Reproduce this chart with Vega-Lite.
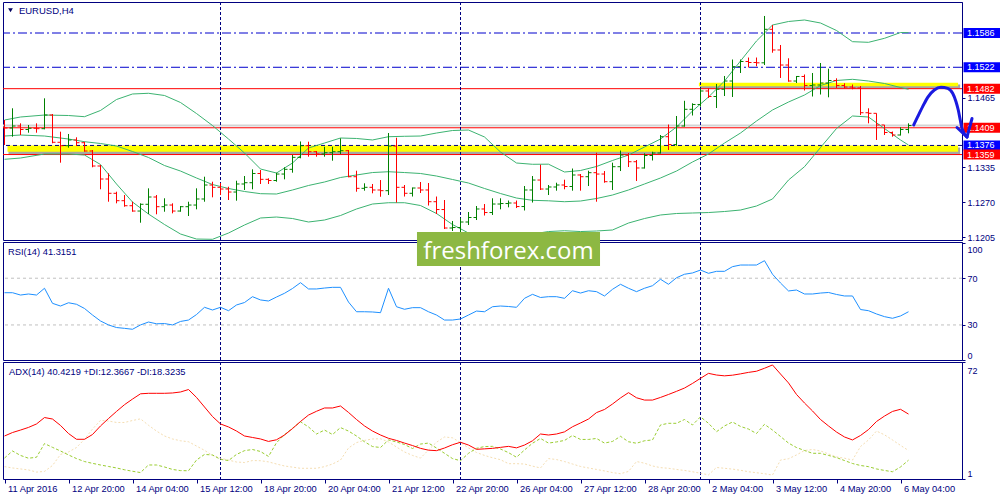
{
"$schema": "https://vega.github.io/schema/vega-lite/v6.json",
"padding": {"left": 1, "top": 1, "right": 0, "bottom": 0},
"background": "white",
"spacing": 2,
"bounds": "flush",
"config": {"view": {"stroke": "#000080", "strokeWidth": 1}, "font": "Liberation Sans",
  "axis": {"labelFont": "Liberation Sans", "labelFontSize": 9, "labelColor": "#000080", "tickColor": "#000080", "domainColor": "#000080", "grid": false, "labelFlush": false, "labelOverlap": false}},
"datasets": {
"bars": [
{"i":3,"o":1.14095,"h":1.14235,"l":1.13768,"c":1.14086},
{"i":4,"o":1.14086,"h":1.14454,"l":1.13923,"c":1.14123},
{"i":5,"o":1.14123,"h":1.14173,"l":1.13955,"c":1.14058},
{"i":6,"o":1.14058,"h":1.14142,"l":1.13998,"c":1.14080},
{"i":7,"o":1.14080,"h":1.14173,"l":1.13998,"c":1.14073},
{"i":8,"o":1.14073,"h":1.14640,"l":1.14061,"c":1.14328},
{"i":9,"o":1.14328,"h":1.14347,"l":1.13800,"c":1.13819},
{"i":10,"o":1.13819,"h":1.14017,"l":1.13438,"c":1.13755},
{"i":11,"o":1.13755,"h":1.13974,"l":1.13718,"c":1.13862},
{"i":12,"o":1.13862,"h":1.13912,"l":1.13749,"c":1.13811},
{"i":13,"o":1.13811,"h":1.13830,"l":1.13643,"c":1.13656},
{"i":14,"o":1.13656,"h":1.13675,"l":1.13352,"c":1.13376},
{"i":15,"o":1.13376,"h":1.13395,"l":1.12941,"c":1.13133},
{"i":16,"o":1.13133,"h":1.13240,"l":1.12709,"c":1.12866},
{"i":17,"o":1.12866,"h":1.12896,"l":1.12679,"c":1.12728},
{"i":18,"o":1.12728,"h":1.12834,"l":1.12616,"c":1.12634},
{"i":19,"o":1.12634,"h":1.12709,"l":1.12522,"c":1.12535},
{"i":20,"o":1.12535,"h":1.12679,"l":1.12317,"c":1.12661},
{"i":21,"o":1.12661,"h":1.12959,"l":1.12479,"c":1.12797},
{"i":22,"o":1.12797,"h":1.12834,"l":1.12474,"c":1.12616},
{"i":23,"o":1.12616,"h":1.12773,"l":1.12522,"c":1.12647},
{"i":24,"o":1.12647,"h":1.12679,"l":1.12492,"c":1.12535},
{"i":25,"o":1.12535,"h":1.12629,"l":1.12522,"c":1.12616},
{"i":26,"o":1.12616,"h":1.12709,"l":1.12442,"c":1.12647},
{"i":27,"o":1.12647,"h":1.12959,"l":1.12567,"c":1.12760},
{"i":28,"o":1.12760,"h":1.13176,"l":1.12709,"c":1.13021},
{"i":29,"o":1.13021,"h":1.13083,"l":1.12791,"c":1.12978},
{"i":30,"o":1.12978,"h":1.13058,"l":1.12834,"c":1.12946},
{"i":31,"o":1.12946,"h":1.12989,"l":1.12741,"c":1.12890},
{"i":32,"o":1.12890,"h":1.13101,"l":1.12728,"c":1.13040},
{"i":33,"o":1.13040,"h":1.13189,"l":1.12928,"c":1.13064},
{"i":34,"o":1.13064,"h":1.13314,"l":1.12941,"c":1.13236},
{"i":35,"o":1.13236,"h":1.13301,"l":1.13040,"c":1.13127},
{"i":36,"o":1.13127,"h":1.13146,"l":1.13040,"c":1.13105},
{"i":37,"o":1.13105,"h":1.13251,"l":1.13083,"c":1.13226},
{"i":38,"o":1.13226,"h":1.13352,"l":1.13127,"c":1.13314},
{"i":39,"o":1.13314,"h":1.13581,"l":1.13251,"c":1.13538},
{"i":40,"o":1.13538,"h":1.13834,"l":1.13520,"c":1.13755},
{"i":41,"o":1.13755,"h":1.13830,"l":1.13550,"c":1.13643},
{"i":42,"o":1.13643,"h":1.13656,"l":1.13550,"c":1.13600},
{"i":43,"o":1.13600,"h":1.13736,"l":1.13550,"c":1.13624},
{"i":44,"o":1.13624,"h":1.13736,"l":1.13475,"c":1.13643},
{"i":45,"o":1.13643,"h":1.13893,"l":1.13600,"c":1.13662},
{"i":46,"o":1.13662,"h":1.13675,"l":1.13165,"c":1.13176},
{"i":47,"o":1.13176,"h":1.13288,"l":1.12896,"c":1.12959},
{"i":48,"o":1.12959,"h":1.13053,"l":1.12915,"c":1.12978},
{"i":49,"o":1.12978,"h":1.13040,"l":1.12866,"c":1.12928},
{"i":50,"o":1.12928,"h":1.13114,"l":1.12802,"c":1.12915},
{"i":51,"o":1.12915,"h":1.13992,"l":1.12834,"c":1.13749},
{"i":52,"o":1.13749,"h":1.13904,"l":1.12694,"c":1.12978},
{"i":53,"o":1.12978,"h":1.13021,"l":1.12806,"c":1.12866},
{"i":54,"o":1.12866,"h":1.12974,"l":1.12806,"c":1.12965},
{"i":55,"o":1.12965,"h":1.13077,"l":1.12872,"c":1.12928},
{"i":56,"o":1.12928,"h":1.13058,"l":1.12638,"c":1.12709},
{"i":57,"o":1.12709,"h":1.12806,"l":1.12479,"c":1.12563},
{"i":58,"o":1.12563,"h":1.12741,"l":1.12199,"c":1.12218},
{"i":59,"o":1.12218,"h":1.12349,"l":1.12162,"c":1.12227},
{"i":60,"o":1.12227,"h":1.12405,"l":1.12124,"c":1.12330},
{"i":61,"o":1.12330,"h":1.12517,"l":1.12274,"c":1.12414},
{"i":62,"o":1.12414,"h":1.12629,"l":1.12367,"c":1.12573},
{"i":63,"o":1.12573,"h":1.12666,"l":1.12451,"c":1.12507},
{"i":64,"o":1.12507,"h":1.12773,"l":1.12461,"c":1.12666},
{"i":65,"o":1.12666,"h":1.12773,"l":1.12567,"c":1.12675},
{"i":66,"o":1.12675,"h":1.12731,"l":1.12604,"c":1.12685},
{"i":67,"o":1.12685,"h":1.12731,"l":1.12591,"c":1.12619},
{"i":68,"o":1.12619,"h":1.13002,"l":1.12545,"c":1.12928},
{"i":69,"o":1.12928,"h":1.13189,"l":1.12694,"c":1.13114},
{"i":70,"o":1.13114,"h":1.13400,"l":1.12928,"c":1.12946},
{"i":71,"o":1.12946,"h":1.13021,"l":1.12834,"c":1.12984},
{"i":72,"o":1.12984,"h":1.13064,"l":1.12915,"c":1.13021},
{"i":73,"o":1.13021,"h":1.13120,"l":1.12941,"c":1.12993},
{"i":74,"o":1.12993,"h":1.13329,"l":1.12915,"c":1.13208},
{"i":75,"o":1.13208,"h":1.13226,"l":1.12915,"c":1.13176},
{"i":76,"o":1.13176,"h":1.13288,"l":1.13002,"c":1.13251},
{"i":77,"o":1.13251,"h":1.13624,"l":1.12709,"c":1.13226},
{"i":78,"o":1.13226,"h":1.13282,"l":1.13064,"c":1.13083},
{"i":79,"o":1.13083,"h":1.13438,"l":1.12928,"c":1.13363},
{"i":80,"o":1.13363,"h":1.13665,"l":1.13282,"c":1.13581},
{"i":81,"o":1.13581,"h":1.13619,"l":1.13357,"c":1.13456},
{"i":82,"o":1.13456,"h":1.13488,"l":1.13096,"c":1.13339},
{"i":83,"o":1.13339,"h":1.13613,"l":1.13329,"c":1.13572},
{"i":84,"o":1.13572,"h":1.13643,"l":1.13479,"c":1.13619},
{"i":85,"o":1.13619,"h":1.13955,"l":1.13609,"c":1.13923},
{"i":86,"o":1.13923,"h":1.14151,"l":1.13675,"c":1.13777},
{"i":87,"o":1.13777,"h":1.14310,"l":1.13755,"c":1.14123},
{"i":88,"o":1.14123,"h":1.14594,"l":1.14110,"c":1.14435},
{"i":89,"o":1.14435,"h":1.14547,"l":1.14319,"c":1.14525},
{"i":90,"o":1.14525,"h":1.14823,"l":1.14484,"c":1.14777},
{"i":91,"o":1.14777,"h":1.14827,"l":1.14646,"c":1.14674},
{"i":92,"o":1.14674,"h":1.14907,"l":1.14459,"c":1.14809},
{"i":93,"o":1.14809,"h":1.15057,"l":1.14683,"c":1.14963},
{"i":94,"o":1.14963,"h":1.15365,"l":1.14665,"c":1.15231},
{"i":95,"o":1.15231,"h":1.15365,"l":1.15113,"c":1.15328},
{"i":96,"o":1.15328,"h":1.15402,"l":1.15216,"c":1.15309},
{"i":97,"o":1.15309,"h":1.15402,"l":1.15238,"c":1.15303},
{"i":98,"o":1.15303,"h":1.16178,"l":1.15262,"c":1.15929},
{"i":99,"o":1.15929,"h":1.16009,"l":1.15492,"c":1.15543},
{"i":100,"o":1.15543,"h":1.15636,"l":1.15020,"c":1.15262},
{"i":101,"o":1.15262,"h":1.15388,"l":1.14950,"c":1.14963},
{"i":102,"o":1.14963,"h":1.15057,"l":1.14926,"c":1.15048},
{"i":103,"o":1.15048,"h":1.15085,"l":1.14786,"c":1.14879},
{"i":104,"o":1.14879,"h":1.15113,"l":1.14674,"c":1.14889},
{"i":105,"o":1.14889,"h":1.15300,"l":1.14711,"c":1.14926},
{"i":106,"o":1.14926,"h":1.15193,"l":1.14659,"c":1.14973},
{"i":107,"o":1.14973,"h":1.15014,"l":1.14833,"c":1.14879},
{"i":108,"o":1.14879,"h":1.14921,"l":1.14827,"c":1.14851},
{"i":109,"o":1.14851,"h":1.14898,"l":1.14809,"c":1.14833},
{"i":110,"o":1.14833,"h":1.14870,"l":1.14328,"c":1.14371},
{"i":111,"o":1.14371,"h":1.14454,"l":1.14173,"c":1.14360},
{"i":112,"o":1.14360,"h":1.14360,"l":1.13862,"c":1.14142},
{"i":113,"o":1.14142,"h":1.14142,"l":1.13955,"c":1.14002},
{"i":114,"o":1.14002,"h":1.14020,"l":1.13923,"c":1.13955},
{"i":115,"o":1.13955,"h":1.14099,"l":1.13946,"c":1.14058},
{"i":116,"o":1.14058,"h":1.14173,"l":1.13987,"c":1.14132}
],
"osc": [
{"i":3,"rsi":57.6,"adx":27.1,"pdi":13.7,"mdi":8.5},
{"i":4,"rsi":57.6,"adx":29.2,"pdi":18.0,"mdi":7.7},
{"i":5,"rsi":55.6,"adx":30.7,"pdi":15.3,"mdi":7.1},
{"i":6,"rsi":56.5,"adx":32.3,"pdi":13.6,"mdi":6.5},
{"i":7,"rsi":55.6,"adx":34.4,"pdi":14.2,"mdi":5.2},
{"i":8,"rsi":61.4,"adx":38.3,"pdi":22.5,"mdi":5.6},
{"i":9,"rsi":48.5,"adx":37.4,"pdi":20.2,"mdi":9.2},
{"i":10,"rsi":46.2,"adx":33.5,"pdi":18.0,"mdi":15.9},
{"i":11,"rsi":49.0,"adx":28.6,"pdi":15.6,"mdi":17.4},
{"i":12,"rsi":47.7,"adx":25.1,"pdi":13.4,"mdi":20.1},
{"i":13,"rsi":44.1,"adx":25.1,"pdi":11.6,"mdi":25.1},
{"i":14,"rsi":38.5,"adx":28.0,"pdi":10.5,"mdi":31.3},
{"i":15,"rsi":33.4,"adx":33.2,"pdi":9.5,"mdi":36.6},
{"i":16,"rsi":30.0,"adx":37.7,"pdi":8.6,"mdi":36.2},
{"i":17,"rsi":27.8,"adx":42.0,"pdi":7.7,"mdi":35.3},
{"i":18,"rsi":27.1,"adx":46.1,"pdi":6.6,"mdi":35.3},
{"i":19,"rsi":26.3,"adx":49.5,"pdi":5.7,"mdi":36.5},
{"i":20,"rsi":30.0,"adx":52.7,"pdi":4.9,"mdi":37.5},
{"i":21,"rsi":32.5,"adx":53.0,"pdi":9.5,"mdi":33.6},
{"i":22,"rsi":31.0,"adx":53.0,"pdi":9.5,"mdi":30.1},
{"i":23,"rsi":31.2,"adx":53.0,"pdi":8.3,"mdi":27.1},
{"i":24,"rsi":30.0,"adx":53.2,"pdi":6.8,"mdi":25.3},
{"i":25,"rsi":33.0,"adx":53.8,"pdi":6.1,"mdi":24.2},
{"i":26,"rsi":34.2,"adx":55.3,"pdi":6.0,"mdi":23.6},
{"i":27,"rsi":38.9,"adx":50.5,"pdi":12.5,"mdi":21.0},
{"i":28,"rsi":45.1,"adx":44.7,"pdi":15.9,"mdi":18.4},
{"i":29,"rsi":42.8,"adx":38.9,"pdi":15.6,"mdi":15.3},
{"i":30,"rsi":45.1,"adx":34.4,"pdi":12.9,"mdi":13.6},
{"i":31,"rsi":42.2,"adx":32.6,"pdi":12.2,"mdi":12.5},
{"i":32,"rsi":47.1,"adx":30.1,"pdi":15.9,"mdi":11.3},
{"i":33,"rsi":49.2,"adx":27.1,"pdi":18.2,"mdi":11.0},
{"i":34,"rsi":54.2,"adx":26.2,"pdi":18.9,"mdi":12.2},
{"i":35,"rsi":51.4,"adx":25.3,"pdi":17.7,"mdi":12.1},
{"i":36,"rsi":50.5,"adx":23.8,"pdi":14.7,"mdi":11.4},
{"i":37,"rsi":53.9,"adx":24.8,"pdi":23.0,"mdi":10.1},
{"i":38,"rsi":57.1,"adx":27.7,"pdi":27.9,"mdi":8.9},
{"i":39,"rsi":61.2,"adx":31.6,"pdi":31.8,"mdi":8.2},
{"i":40,"rsi":66.2,"adx":35.9,"pdi":35.7,"mdi":7.5},
{"i":41,"rsi":60.8,"adx":39.8,"pdi":32.6,"mdi":7.5},
{"i":42,"rsi":60.8,"adx":42.1,"pdi":28.3,"mdi":7.5},
{"i":43,"rsi":61.6,"adx":44.1,"pdi":30.7,"mdi":8.5},
{"i":44,"rsi":62.2,"adx":44.1,"pdi":28.0,"mdi":10.1},
{"i":45,"rsi":62.2,"adx":45.3,"pdi":32.2,"mdi":12.5},
{"i":46,"rsi":49.6,"adx":41.4,"pdi":30.1,"mdi":19.8},
{"i":47,"rsi":41.3,"adx":37.1,"pdi":27.1,"mdi":23.1},
{"i":48,"rsi":41.3,"adx":33.2,"pdi":23.6,"mdi":24.4},
{"i":49,"rsi":41.1,"adx":30.1,"pdi":20.7,"mdi":25.3},
{"i":50,"rsi":40.5,"adx":27.7,"pdi":20.1,"mdi":25.4},
{"i":51,"rsi":61.4,"adx":25.7,"pdi":24.7,"mdi":23.5},
{"i":52,"rsi":45.6,"adx":24.4,"pdi":23.5,"mdi":20.4},
{"i":53,"rsi":43.4,"adx":22.8,"pdi":21.9,"mdi":17.4},
{"i":54,"rsi":44.8,"adx":21.3,"pdi":19.5,"mdi":15.3},
{"i":55,"rsi":44.8,"adx":19.6,"pdi":22.2,"mdi":13.7},
{"i":56,"rsi":41.3,"adx":18.5,"pdi":22.8,"mdi":18.6},
{"i":57,"rsi":38.5,"adx":18.2,"pdi":19.8,"mdi":23.3},
{"i":58,"rsi":34.2,"adx":19.8,"pdi":16.6,"mdi":26.5},
{"i":59,"rsi":34.2,"adx":21.8,"pdi":13.4,"mdi":26.0},
{"i":60,"rsi":35.1,"adx":23.3,"pdi":12.1,"mdi":23.1},
{"i":61,"rsi":38.5,"adx":21.6,"pdi":16.6,"mdi":19.9},
{"i":62,"rsi":41.9,"adx":19.0,"pdi":19.6,"mdi":17.1},
{"i":63,"rsi":41.3,"adx":19.3,"pdi":20.7,"mdi":15.3},
{"i":64,"rsi":45.6,"adx":19.6,"pdi":20.8,"mdi":13.9},
{"i":65,"rsi":46.2,"adx":20.2,"pdi":19.2,"mdi":12.7},
{"i":66,"rsi":45.8,"adx":20.8,"pdi":17.0,"mdi":10.3},
{"i":67,"rsi":45.1,"adx":19.9,"pdi":14.2,"mdi":10.3},
{"i":68,"rsi":52.8,"adx":21.6,"pdi":18.6,"mdi":10.1},
{"i":69,"rsi":56.2,"adx":24.2,"pdi":22.7,"mdi":8.8},
{"i":70,"rsi":53.5,"adx":28.3,"pdi":25.6,"mdi":7.7},
{"i":71,"rsi":54.2,"adx":27.7,"pdi":22.8,"mdi":13.4},
{"i":72,"rsi":54.2,"adx":28.3,"pdi":23.5,"mdi":12.8},
{"i":73,"rsi":52.8,"adx":29.6,"pdi":24.4,"mdi":11.6},
{"i":74,"rsi":59.3,"adx":32.7,"pdi":27.4,"mdi":10.1},
{"i":75,"rsi":57.3,"adx":35.0,"pdi":25.0,"mdi":8.6},
{"i":76,"rsi":59.3,"adx":37.4,"pdi":25.0,"mdi":7.7},
{"i":77,"rsi":58.5,"adx":41.3,"pdi":25.6,"mdi":6.8},
{"i":78,"rsi":54.8,"adx":43.2,"pdi":22.8,"mdi":5.9},
{"i":79,"rsi":60.5,"adx":46.5,"pdi":23.8,"mdi":4.9},
{"i":80,"rsi":64.8,"adx":50.2,"pdi":26.9,"mdi":4.2},
{"i":81,"rsi":61.4,"adx":53.4,"pdi":23.6,"mdi":5.6},
{"i":82,"rsi":58.5,"adx":50.3,"pdi":22.7,"mdi":11.6},
{"i":83,"rsi":61.4,"adx":48.9,"pdi":24.2,"mdi":10.6},
{"i":84,"rsi":63.6,"adx":48.9,"pdi":24.7,"mdi":8.9},
{"i":85,"rsi":69.1,"adx":50.5,"pdi":33.8,"mdi":7.9},
{"i":86,"rsi":64.8,"adx":52.3,"pdi":34.8,"mdi":7.5},
{"i":87,"rsi":70.4,"adx":54.2,"pdi":34.8,"mdi":6.8},
{"i":88,"rsi":73.4,"adx":56.2,"pdi":37.1,"mdi":6.2},
{"i":89,"rsi":74.5,"adx":59.0,"pdi":33.8,"mdi":5.4},
{"i":90,"rsi":77.0,"adx":62.1,"pdi":38.7,"mdi":4.5},
{"i":91,"rsi":74.2,"adx":65.1,"pdi":34.8,"mdi":3.5},
{"i":92,"rsi":75.9,"adx":64.1,"pdi":29.7,"mdi":8.0},
{"i":93,"rsi":75.9,"adx":63.6,"pdi":33.2,"mdi":7.5},
{"i":94,"rsi":79.9,"adx":64.0,"pdi":35.6,"mdi":7.0},
{"i":95,"rsi":81.3,"adx":64.8,"pdi":32.9,"mdi":6.3},
{"i":96,"rsi":81.3,"adx":65.7,"pdi":31.3,"mdi":5.4},
{"i":97,"rsi":81.3,"adx":66.4,"pdi":28.6,"mdi":4.8},
{"i":98,"rsi":85.0,"adx":68.2,"pdi":34.2,"mdi":4.2},
{"i":99,"rsi":73.4,"adx":70.2,"pdi":30.7,"mdi":3.4},
{"i":100,"rsi":65.9,"adx":64.7,"pdi":26.8,"mdi":12.5},
{"i":101,"rsi":59.1,"adx":59.3,"pdi":22.8,"mdi":13.3},
{"i":102,"rsi":59.9,"adx":52.3,"pdi":20.1,"mdi":15.6},
{"i":103,"rsi":56.5,"adx":47.1,"pdi":18.3,"mdi":18.3},
{"i":104,"rsi":56.5,"adx":42.3,"pdi":16.6,"mdi":18.9},
{"i":105,"rsi":57.3,"adx":37.1,"pdi":16.6,"mdi":18.0},
{"i":106,"rsi":57.8,"adx":33.2,"pdi":15.3,"mdi":16.2},
{"i":107,"rsi":56.1,"adx":29.5,"pdi":14.0,"mdi":14.4},
{"i":108,"rsi":54.8,"adx":26.5,"pdi":12.2,"mdi":13.6},
{"i":109,"rsi":54.8,"adx":24.7,"pdi":10.4,"mdi":12.5},
{"i":110,"rsi":43.2,"adx":27.4,"pdi":9.2,"mdi":20.7},
{"i":111,"rsi":42.2,"adx":31.0,"pdi":8.5,"mdi":24.7},
{"i":112,"rsi":39.4,"adx":35.9,"pdi":7.1,"mdi":30.1},
{"i":113,"rsi":37.1,"adx":39.2,"pdi":6.2,"mdi":27.8},
{"i":114,"rsi":35.7,"adx":42.0,"pdi":5.4,"mdi":24.7},
{"i":115,"rsi":37.7,"adx":43.3,"pdi":8.3,"mdi":21.4},
{"i":116,"rsi":41.3,"adx":40.4,"pdi":12.4,"mdi":18.3}
],
"bands": [
{"i":3,"u":1.14235,"m":1.13936,"lo":1.13501},
{"i":5,"u":1.14291,"m":1.13955,"lo":1.13525},
{"i":8,"u":1.14328,"m":1.13936,"lo":1.13600},
{"i":11,"u":1.14319,"m":1.13880,"lo":1.13600},
{"i":13,"u":1.14297,"m":1.13830,"lo":1.13581},
{"i":15,"u":1.14413,"m":1.13796,"lo":1.13404},
{"i":17,"u":1.14618,"m":1.13749,"lo":1.13040},
{"i":19,"u":1.14721,"m":1.13647,"lo":1.12703},
{"i":21,"u":1.14734,"m":1.13535,"lo":1.12479},
{"i":23,"u":1.14693,"m":1.13385,"lo":1.12283},
{"i":25,"u":1.14562,"m":1.13282,"lo":1.12106},
{"i":27,"u":1.14356,"m":1.13152,"lo":1.12012},
{"i":29,"u":1.14132,"m":1.13030,"lo":1.12007},
{"i":31,"u":1.13880,"m":1.12956,"lo":1.12124},
{"i":33,"u":1.13619,"m":1.12900,"lo":1.12274},
{"i":35,"u":1.13320,"m":1.12859,"lo":1.12405},
{"i":37,"u":1.13245,"m":1.12853,"lo":1.12423},
{"i":39,"u":1.13432,"m":1.12928,"lo":1.12395},
{"i":41,"u":1.13712,"m":1.13012,"lo":1.12330},
{"i":43,"u":1.13805,"m":1.13077,"lo":1.12367},
{"i":45,"u":1.13899,"m":1.13161,"lo":1.12451},
{"i":47,"u":1.13890,"m":1.13208,"lo":1.12573},
{"i":49,"u":1.13862,"m":1.13254,"lo":1.12666},
{"i":51,"u":1.13923,"m":1.13269,"lo":1.12690},
{"i":53,"u":1.13931,"m":1.13254,"lo":1.12690},
{"i":55,"u":1.13936,"m":1.13236,"lo":1.12638},
{"i":57,"u":1.13992,"m":1.13189,"lo":1.12489},
{"i":59,"u":1.14039,"m":1.13124,"lo":1.12283},
{"i":61,"u":1.14048,"m":1.13058,"lo":1.12124},
{"i":63,"u":1.13918,"m":1.12956,"lo":1.12050},
{"i":65,"u":1.13637,"m":1.12862,"lo":1.12031},
{"i":67,"u":1.13432,"m":1.12778,"lo":1.12050},
{"i":69,"u":1.13408,"m":1.12735,"lo":1.12106},
{"i":71,"u":1.13410,"m":1.12726,"lo":1.12152},
{"i":73,"u":1.13264,"m":1.12709,"lo":1.12167},
{"i":75,"u":1.13292,"m":1.12722,"lo":1.12152},
{"i":77,"u":1.13367,"m":1.12769,"lo":1.12162},
{"i":79,"u":1.13479,"m":1.12834,"lo":1.12181},
{"i":81,"u":1.13581,"m":1.12928,"lo":1.12311},
{"i":83,"u":1.13731,"m":1.13040,"lo":1.12395},
{"i":85,"u":1.13880,"m":1.13152,"lo":1.12461},
{"i":87,"u":1.14104,"m":1.13282,"lo":1.12489},
{"i":89,"u":1.14403,"m":1.13451,"lo":1.12498},
{"i":91,"u":1.14665,"m":1.13600,"lo":1.12507},
{"i":93,"u":1.14963,"m":1.13805,"lo":1.12526},
{"i":95,"u":1.15337,"m":1.13992,"lo":1.12554},
{"i":97,"u":1.15711,"m":1.14216,"lo":1.12629},
{"i":99,"u":1.16009,"m":1.14422,"lo":1.12760},
{"i":101,"u":1.16075,"m":1.14571,"lo":1.13114},
{"i":103,"u":1.16103,"m":1.14702,"lo":1.13363},
{"i":105,"u":1.16047,"m":1.14879,"lo":1.13721},
{"i":107,"u":1.15907,"m":1.14973,"lo":1.14076},
{"i":109,"u":1.15698,"m":1.14995,"lo":1.14310},
{"i":111,"u":1.15686,"m":1.14963,"lo":1.14291},
{"i":113,"u":1.15761,"m":1.14917,"lo":1.14076},
{"i":115,"u":1.15869,"m":1.14842,"lo":1.13862},
{"i":116,"u":1.15866,"m":1.14809,"lo":1.13768}
],
"weeks": [{"i":30},{"i":60},{"i":90}],
"levels": [
{"p":1.1586,"s":"b"},{"p":1.1522,"s":"b"},
{"p":1.1482,"s":"r"},{"p":1.1409,"s":"r"},{"p":1.1359,"s":"r"},
{"p":1.1376,"s":"n"},{"p":1.14132,"s":"g"}
],
"tags": [
{"p":1.1586,"t":"1.1586","s":"b"},{"p":1.1522,"t":"1.1522","s":"b"},
{"p":1.1482,"t":"1.1482","s":"r"},{"p":1.1409,"t":"1.1409","s":"r"},
{"p":1.1376,"t":"1.1376","s":"b"},{"p":1.1359,"t":"1.1359","s":"r"}
],
"arrow": [
{"seg":"c","k":1,"x":116.65,"p":1.14142},
{"seg":"c","k":2,"x":117.15,"p":1.14297},
{"seg":"c","k":3,"x":117.77,"p":1.14484},
{"seg":"c","k":4,"x":118.40,"p":1.14659},
{"seg":"c","k":5,"x":119.23,"p":1.14795},
{"seg":"c","k":6,"x":120.06,"p":1.14846},
{"seg":"c","k":7,"x":120.90,"p":1.14827},
{"seg":"c","k":8,"x":121.52,"p":1.14734},
{"seg":"c","k":9,"x":121.94,"p":1.14577},
{"seg":"c","k":10,"x":122.22,"p":1.14422},
{"seg":"c","k":11,"x":122.47,"p":1.14235},
{"seg":"c","k":12,"x":122.69,"p":1.14080},
{"seg":"c","k":13,"x":123.31,"p":1.13918}
],
"wings": [
{"seg":"w1","k":1,"x":122.06,"p":1.14095},
{"seg":"w1","k":2,"x":123.31,"p":1.13918},
{"seg":"w2","k":1,"x":123.94,"p":1.14263},
{"seg":"w2","k":2,"x":123.31,"p":1.13918}
],
"rsilev": [{"v":70},{"v":30}]
},
"vconcat": [
{
"width": 959, "height": 238,
"layer": [
{"data":{"values":[{}]},"mark":{"type":"rect","color":"#a6a6a6"},
 "encoding":{"x":{"datum":3.5,"type":"quantitative","scale":{"domain":[2.8125,122.6875],"nice":false,"zero":false},"axis":null},
 "x2":{"datum":122.45},
 "y":{"datum":1.13720,"type":"quantitative","scale":{"domain":[1.11994,1.16439],"nice":false,"zero":false},
   "axis":{"orient":"right","values":[1.1205,1.127,1.1335,1.1465],"tickCount":20,"format":".4f","tickSize":3,"labelPadding":2,"title":null,"labelAlign":"left"}},
 "y2":{"datum":1.13595}}},
{"data":{"values":[{}]},"mark":{"type":"rect","color":"#ffff00"},
 "encoding":{"x":{"datum":3.375,"type":"quantitative","axis":null},"x2":{"datum":122.2},"y":{"datum":1.13760,"type":"quantitative"},"y2":{"datum":1.13643}}},
{"data":{"values":[{}]},"mark":{"type":"rect","color":"#a6a6a6"},
 "encoding":{"x":{"datum":89.95,"type":"quantitative","axis":null},"x2":{"datum":122.45},"y":{"datum":1.14900,"type":"quantitative"},"y2":{"datum":1.14822}}},
{"data":{"values":[{}]},"mark":{"type":"rect","color":"#ffff00"},
 "encoding":{"x":{"datum":89.8,"type":"quantitative","axis":null},"x2":{"datum":122.2},"y":{"datum":1.14932,"type":"quantitative"},"y2":{"datum":1.14865}}},
{"data":{"name":"levels"},"transform":[{"filter":"datum.s == 'g'"}],"mark":{"type":"rule","color":"#d4d4d4","strokeWidth":2},
 "encoding":{"y":{"field":"p","type":"quantitative"}}},
{"data":{"name":"levels"},"transform":[{"filter":"datum.s == 'r'"}],"mark":{"type":"rule","color":"#ff0000","strokeWidth":1},
 "encoding":{"y":{"field":"p","type":"quantitative"}}},
{"data":{"name":"levels"},"transform":[{"filter":"datum.s == 'b'"}],"mark":{"type":"rule","color":"#0000cd","strokeWidth":1,"strokeDash":[9,3,2,3]},
 "encoding":{"y":{"field":"p","type":"quantitative"}}},
{"data":{"name":"levels"},"transform":[{"filter":"datum.s == 'n'"}],"mark":{"type":"rule","color":"#000080","strokeWidth":1,"strokeDash":[4,3]},
 "encoding":{"y":{"field":"p","type":"quantitative"}}},
{"data":{"name":"weeks"},"mark":{"type":"rule","color":"#000080","strokeWidth":1,"strokeDash":[3,2]},
 "encoding":{"x":{"field":"i","type":"quantitative","axis":null}}},
{"data":{"name":"bands"},"mark":{"type":"line","color":"#3cb371","strokeWidth":1},
 "encoding":{"x":{"field":"i","type":"quantitative","axis":null},"y":{"field":"u","type":"quantitative"}}},
{"data":{"name":"bands"},"mark":{"type":"line","color":"#3cb371","strokeWidth":1},
 "encoding":{"x":{"field":"i","type":"quantitative","axis":null},"y":{"field":"m","type":"quantitative"}}},
{"data":{"name":"bands"},"mark":{"type":"line","color":"#3cb371","strokeWidth":1},
 "encoding":{"x":{"field":"i","type":"quantitative","axis":null},"y":{"field":"lo","type":"quantitative"}}},
{"data":{"name":"bars"},"mark":{"type":"rule","strokeWidth":1},
 "encoding":{"x":{"field":"i","type":"quantitative","axis":null},"y":{"field":"l","type":"quantitative"},"y2":{"field":"h"},
 "color":{"condition":{"test":"datum.c >= datum.o","value":"#008000"},"value":"#ff0000"}}},
{"data":{"name":"bars"},"mark":{"type":"point","shape":"M-1,0H0","size":36,"filled":false,"opacity":1,"strokeWidth":1,"clip":true},
 "encoding":{"x":{"field":"i","type":"quantitative","axis":null},"y":{"field":"o","type":"quantitative"},
 "color":{"condition":{"test":"datum.c >= datum.o","value":"#008000"},"value":"#ff0000"}}},
{"data":{"name":"bars"},"mark":{"type":"point","shape":"M0,0H1","size":36,"filled":false,"opacity":1,"strokeWidth":1},
 "encoding":{"x":{"field":"i","type":"quantitative","axis":null},"y":{"field":"c","type":"quantitative"},
 "color":{"condition":{"test":"datum.c >= datum.o","value":"#008000"},"value":"#ff0000"}}},
{"data":{"values":[{"t":"EURUSD,H4"}]},"mark":{"type":"point","shape":"triangle-down","size":22,"filled":true,"opacity":1,"color":"#000060"},
 "encoding":{"x":{"datum":3.75,"type":"quantitative","axis":null},"y":{"datum":1.16285,"type":"quantitative"}}},
{"data":{"values":[{"t":"EURUSD,H4"}]},"mark":{"type":"text","align":"left","baseline":"middle","fontSize":9.5,"color":"#000080"},
 "encoding":{"x":{"datum":4.8,"type":"quantitative","axis":null},"y":{"datum":1.16277,"type":"quantitative"},"text":{"field":"t"}}},
{"data":{"name":"tags"},"mark":{"type":"point","shape":"M-1,-0.27H1V0.27H-1Z","size":1369,"filled":true,"opacity":1},
 "encoding":{"x":{"datum":125.19,"type":"quantitative","axis":null},"y":{"field":"p","type":"quantitative"},
 "color":{"field":"s","type":"nominal","scale":{"domain":["b","r"],"range":["#0000ff","#ff0000"]},"legend":null}}},
{"data":{"name":"tags"},"mark":{"type":"text","align":"left","baseline":"middle","fontSize":9,"color":"white"},
 "encoding":{"x":{"datum":123.31,"type":"quantitative","axis":null},"y":{"field":"p","type":"quantitative"},"text":{"field":"t"}}},
{"data":{"name":"arrow"},"mark":{"type":"line","color":"#1a1ae0","strokeWidth":3,"interpolate":"monotone","strokeCap":"round","strokeJoin":"round"},
 "encoding":{"x":{"field":"x","type":"quantitative","axis":null},"y":{"field":"p","type":"quantitative"},"order":{"field":"k"}}},
{"data":{"name":"wings"},"mark":{"type":"line","color":"#1a1ae0","strokeWidth":3,"strokeCap":"round"},
 "encoding":{"x":{"field":"x","type":"quantitative","axis":null},"y":{"field":"p","type":"quantitative"},"detail":{"field":"seg"},"order":{"field":"k"}}}
]
},
{
"width": 959, "height": 118,
"layer": [
{"data":{"name":"rsilev"},"mark":{"type":"rule","color":"#c0c0c0","strokeDash":[3,3]},
 "encoding":{"y":{"field":"v","type":"quantitative","scale":{"domain":[0,101],"nice":false,"zero":false},
   "axis":{"orient":"right","values":[0,30,70,100],"tickCount":20,"tickSize":3,"labelPadding":2,"title":null,"labelOverlap":false,"labelBound":false,
     "labelOffset":{"condition":{"test":"datum.value >= 100","value":6},"value":0},
     "labelBaseline":{"condition":{"test":"datum.value <= 0","value":"bottom"},"value":"middle"}}}}},
{"data":{"name":"weeks"},"mark":{"type":"rule","color":"#000080","strokeWidth":1,"strokeDash":[3,2]},
 "encoding":{"x":{"field":"i","type":"quantitative","scale":{"domain":[2.8125,122.6875],"nice":false,"zero":false},"axis":null}}},
{"data":{"name":"osc"},"mark":{"type":"line","color":"#1e90ff","strokeWidth":1},
 "encoding":{"x":{"field":"i","type":"quantitative","axis":null},"y":{"field":"rsi","type":"quantitative"}}},
{"data":{"values":[{"t":"RSI(14) 41.3151"}]},"mark":{"type":"text","align":"left","baseline":"middle","fontSize":9.3,"color":"#000080"},
 "encoding":{"x":{"datum":3.45,"type":"quantitative","axis":null},"y":{"datum":92.7,"type":"quantitative"},"text":{"field":"t"}}},
{"data":{"values":[{}]},"mark":{"type":"rect","color":"#8db843"},
 "encoding":{"x":{"datum":54.56,"type":"quantitative","axis":null},"x2":{"datum":77.44},"y":{"datum":109.6,"type":"quantitative"},"y2":{"datum":80.5}}},
{"data":{"values":[{"t":"freshforex.com"}]},"mark":{"type":"text","align":"center","baseline":"alphabetic","font":"Open Sans","fontSize":24,"color":"white"},
 "encoding":{"x":{"datum":66.0,"type":"quantitative","axis":null},"y":{"datum":86.4,"type":"quantitative"},"text":{"field":"t"}}}
]
},
{
"width": 959, "height": 117,
"layer": [
{"data":{"name":"weeks"},"mark":{"type":"rule","color":"#000080","strokeWidth":1,"strokeDash":[3,2]},
 "encoding":{"x":{"field":"i","type":"quantitative","scale":{"domain":[2.8125,122.6875],"nice":false,"zero":false},
   "axis":{"orient":"bottom","values":[3,11,19,27,35,43,51,59,67,75,83,91,99,107,115],"tickCount":40,
     "labelExpr":"['11 Apr 2016','12 Apr 20:00','14 Apr 04:00','15 Apr 12:00','18 Apr 20:00','20 Apr 04:00','21 Apr 12:00','22 Apr 20:00','26 Apr 04:00','27 Apr 12:00','28 Apr 20:00','2 May 04:00','3 May 12:00','4 May 20:00','6 May 04:00'][(datum.value-3)/8]",
     "labelAlign":"left","labelOffset":3,"labelPadding":1,"tickSize":4,"domain":false,"title":null,"labelFontSize":9.3,"labelBound":false}}}},
{"data":{"name":"osc"},"mark":{"type":"line","color":"#f5deb3","strokeWidth":1,"strokeDash":[2,2]},
 "encoding":{"x":{"field":"i","type":"quantitative"},"y":{"field":"mdi","type":"quantitative","scale":{"domain":[1,72],"nice":false,"zero":false},
   "axis":{"orient":"right","values":[1,72],"tickSize":3,"labelPadding":2,"title":null,
     "labelOffset":{"condition":{"test":"datum.value >= 72","value":8},"value":-6}}}}},
{"data":{"name":"osc"},"mark":{"type":"line","color":"#9acd32","strokeWidth":1,"strokeDash":[3,2]},
 "encoding":{"x":{"field":"i","type":"quantitative"},"y":{"field":"pdi","type":"quantitative"}}},
{"data":{"name":"osc"},"mark":{"type":"line","color":"#ff0000","strokeWidth":1},
 "encoding":{"x":{"field":"i","type":"quantitative"},"y":{"field":"adx","type":"quantitative"}}},
{"data":{"values":[{"t":"ADX(14) 40.4219 +DI:12.3667 -DI:18.3235"}]},"mark":{"type":"text","align":"left","baseline":"middle","fontSize":9.3,"color":"#000080"},
 "encoding":{"x":{"datum":3.56,"type":"quantitative"},"y":{"datum":66.1,"type":"quantitative"},"text":{"field":"t"}}}
]
}
]
}
